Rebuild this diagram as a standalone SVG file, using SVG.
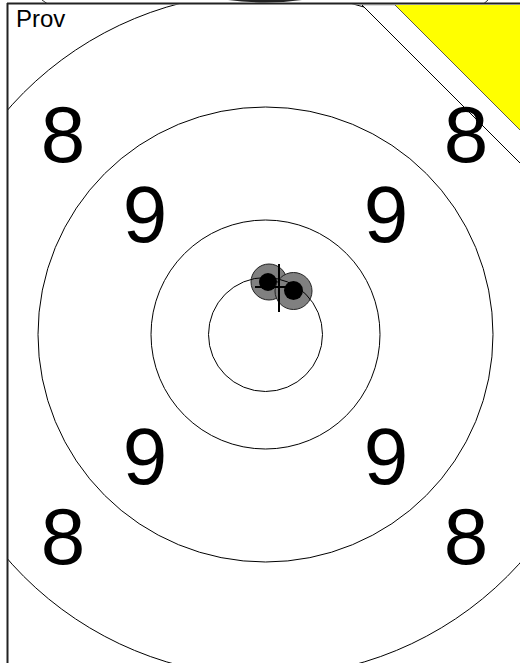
<svg xmlns="http://www.w3.org/2000/svg" width="520" height="663" viewBox="0 0 520 663">
<defs>
<style>
.ring{fill:none;stroke:#000;stroke-width:1}
.num{font-family:"Liberation Sans",Arial,sans-serif;font-size:80px;fill:#000;text-anchor:middle}
.shot{fill:#808080;stroke:#222;stroke-width:1}
.core{fill:#000}
</style>
<clipPath id="area"><rect x="8" y="4.5" width="512" height="659"/></clipPath>
</defs>
<rect x="0" y="0" width="520" height="663" fill="#fff"/>
<g id="target" clip-path="url(#area)">
<g id="shots">
<circle class="shot" cx="269" cy="282" r="18"/>
<circle class="core" cx="268" cy="282" r="9"/>
<circle class="shot" cx="293.5" cy="291" r="18.5"/>
<circle class="core" cx="293.5" cy="290.5" r="9.5"/>
</g>
<g id="rings">
<circle class="ring" cx="265.5" cy="334.5" r="57"/>
<circle class="ring" cx="265.5" cy="334.5" r="114.5"/>
<circle class="ring" cx="265.5" cy="334.5" r="227.5"/>
<circle class="ring" cx="265.5" cy="334.5" r="342"/>
</g>
<g id="cross" stroke="#000" stroke-width="2">
<line x1="279" y1="264" x2="279" y2="312"/>
<line x1="255" y1="287" x2="290" y2="287"/>
</g>
<g id="corner-band">
<polygon points="362,5 520,5 520,163" fill="#fff"/>
<polygon points="395,5 520,5 520,130" fill="#ffff00"/>
</g>
<g id="numbers">
<text class="num" x="63" y="162">8</text>
<text class="num" x="466" y="162">8</text>
<text class="num" x="145" y="242">9</text>
<text class="num" x="386" y="242">9</text>
<text class="num" x="145" y="484">9</text>
<text class="num" x="386" y="484">9</text>
<text class="num" x="63" y="564">8</text>
<text class="num" x="466" y="564">8</text>
</g>
<g id="corner-lines">
<line x1="362" y1="5" x2="395" y2="5" stroke="#bbb" stroke-width="1"/>
<line x1="362" y1="5" x2="520" y2="163" stroke="#000" stroke-width="1"/>
<line x1="395" y1="5" x2="520" y2="130" stroke="#333" stroke-width="0.8"/>
</g>
</g>
<g id="above">
<path d="M228,0 Q265,5 302,0 Z" fill="#222"/>
<line x1="42" y1="0" x2="47" y2="3.5" stroke="#333" stroke-width="1"/>
<line x1="488" y1="0" x2="484" y2="3.5" stroke="#333" stroke-width="1"/>
</g>
<g id="frame" stroke="#222" stroke-width="2">
<line x1="7" y1="3.5" x2="520" y2="3.5"/>
<line x1="7.5" y1="3" x2="7.5" y2="663"/>
</g>
<text id="label" x="16" y="27" font-family="'Liberation Sans',Arial,sans-serif" font-size="24" fill="#000">Prov</text>
</svg>
